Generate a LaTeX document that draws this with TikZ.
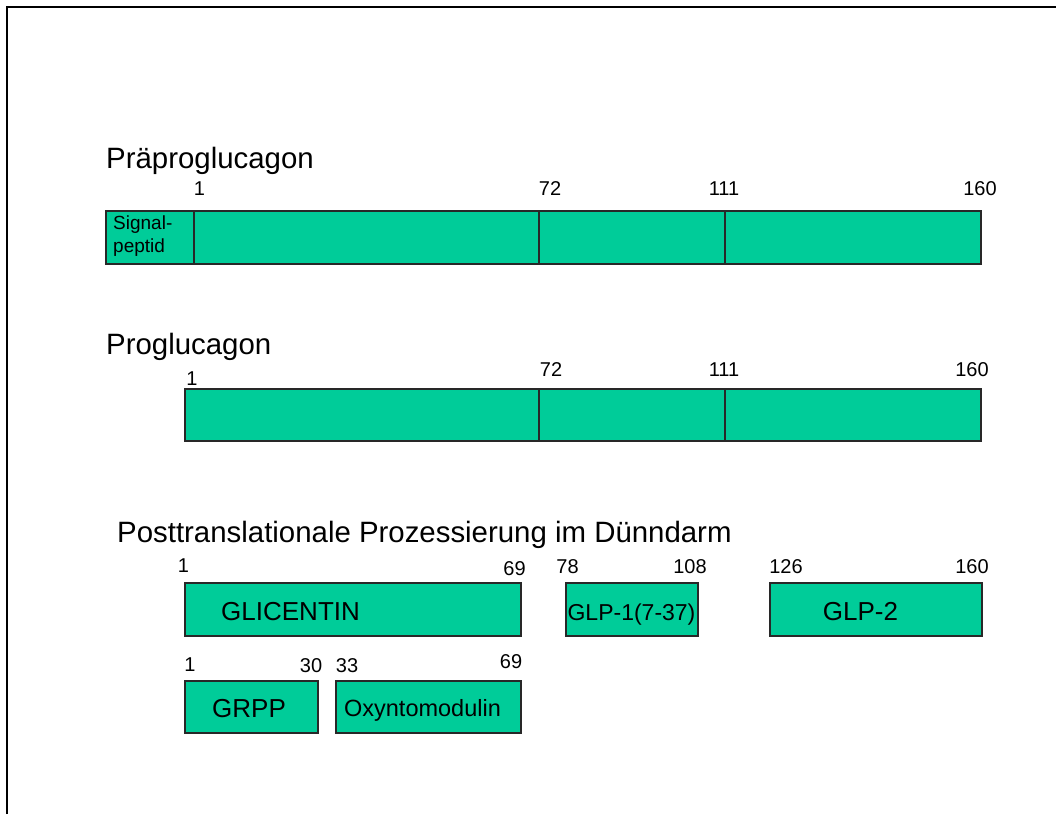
\documentclass[tikz,border=0pt]{standalone}
\usepackage{fontspec}
\setmainfont{Liberation Sans}
\definecolor{segc}{RGB}{0,204,153}
\definecolor{edgec}{RGB}{40,40,40}
\begin{document}
\begin{tikzpicture}[x=1pt,y=-1pt,
  seg/.style={draw=edgec, line width=1.3pt, fill=segc, inner sep=0pt, outer sep=0pt, anchor=north west},
  heading/.style={font=\fontsize{29.4}{35}\selectfont, inner sep=0pt, anchor=base west},
  num/.style={font=\fontsize{20}{24}\selectfont, inner sep=0pt, anchor=base},
  lbl/.style={font=\fontsize{26}{30}\selectfont, inner sep=0pt, anchor=base},
  small/.style={font=\fontsize{19}{23}\selectfont, inner sep=0pt, anchor=base west},
]
\useasboundingbox (0,0) rectangle (1056,814);
\coordinate (fb) at (7,814);
\coordinate (fc) at (7,7);
\coordinate (fr) at (1056,7);
\draw[line width=2pt] (fb) -- (fc) -- (fr);

% Praeproglucagon
\node[heading] (t1) at (106,168) {Präproglucagon};
\node[seg, minimum width=88pt, minimum height=53pt] (sig) at (106,211) {};
\node[seg, minimum width=345pt, minimum height=53pt] (a1) at (194,211) {};
\node[seg, minimum width=186pt, minimum height=53pt] (a2) at (539,211) {};
\node[seg, minimum width=256pt, minimum height=53pt] (a3) at (725,211) {};
\node[small] (sp1) at (113,229) {Signal-};
\node[small] (sp2) at (113,252) {peptid};
\node[num] (n11) at (199.5,195) {1};
\node[num] (n12) at (550,195) {72};
\node[num] (n13) at (724,195) {111};
\node[num] (n14) at (980,195) {160};

% Proglucagon
\node[heading] (t2) at (106,354) {Proglucagon};
\node[seg, minimum width=354pt, minimum height=52pt] (b1) at (185,389) {};
\node[seg, minimum width=186pt, minimum height=52pt] (b2) at (539,389) {};
\node[seg, minimum width=256pt, minimum height=52pt] (b3) at (725,389) {};
\node[num] (n21) at (192,385) {1};
\node[num] (n22) at (551,376) {72};
\node[num] (n23) at (724,376) {111};
\node[num] (n24) at (972,376) {160};

% Posttranslationale Prozessierung
\node[heading] (t3) at (117,542) {Posttranslationale Prozessierung im Dünndarm};
\node[seg, minimum width=336pt, minimum height=53pt] (glic) at (185,583) {};
\node[seg, minimum width=132pt, minimum height=53pt] (glp1) at (566,583) {};
\node[seg, minimum width=212pt, minimum height=53pt] (glp2) at (770,583) {};
\node[lbl, anchor=base west] (lglic) at (221,620) {GLICENTIN};
\node[lbl, font=\fontsize{23}{27}\selectfont] (lglp1) at (631.5,620) {GLP-1(7-37)};
\node[lbl] (lglp2) at (860.5,620) {GLP-2};
\node[num] (n31) at (183.5,572) {1};
\node[num] (n32) at (514.5,575) {69};
\node[num] (n33) at (567.5,573) {78};
\node[num] (n34) at (690,573) {108};
\node[num] (n35) at (786,573) {126};
\node[num] (n36) at (972,573) {160};

\node[seg, minimum width=133pt, minimum height=52pt] (grpp) at (185,681) {};
\node[seg, minimum width=185pt, minimum height=52pt] (oxy) at (336,681) {};
\node[lbl] (lgrpp) at (249,717) {GRPP};
\node[lbl, font=\fontsize{23.5}{27}\selectfont] (loxy) at (422.5,716) {Oxyntomodulin};
\node[num] (n41) at (190,671) {1};
\node[num] (n42) at (311,672) {30};
\node[num] (n43) at (347,672) {33};
\node[num] (n44) at (511,668) {69};
\end{tikzpicture}
\end{document}
